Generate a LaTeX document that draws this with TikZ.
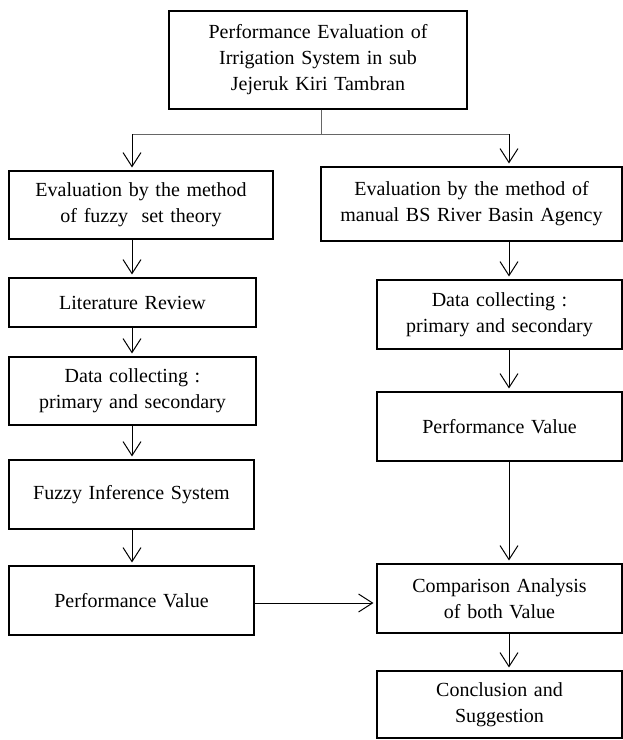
\documentclass[tikz,border=0pt]{standalone}
\usepackage{fontspec}
\setmainfont{Liberation Serif}
\usetikzlibrary{arrows.meta}
\begin{document}
\begin{tikzpicture}[x=1pt,y=-1pt,
  box/.style={draw=black, line width=1.1pt, align=center, inner sep=0pt,
    font=\fontsize{20}{26}\selectfont},
  arr/.style={draw=black, line width=1pt, -{Straight Barb[length=14pt,width=18pt,line width=1pt]}, shorten >=3pt},
  link/.style={draw=black!60, line width=1pt}]
\useasboundingbox (0,0) rectangle (623,740);
\def\bx#1#2#3#4#5#6{\node[box, minimum width=#4-#3, minimum height=#6-#5, text width=#4-#3-6] (#1) at ({(#3+#4)/2},{(#5+#6)/2}) {#2};}
\bx{top}{Performance Evaluation of\\Irrigation System in sub\\Jejeruk Kiri Tambran}{169}{467}{11}{109}
\bx{L1}{Evaluation by the method\\of fuzzy\ \ set theory}{9}{273}{171}{239}
\bx{L2}{Literature Review}{9}{256}{278}{327}
\bx{L3}{Data collecting :\\primary and secondary}{9}{256}{357}{425}
\bx{L4}{Fuzzy Inference System}{9}{254}{460}{529}
\bx{L5}{Performance Value}{9}{254}{566}{635}
\bx{R1}{Evaluation by the method of\\manual BS River Basin Agency}{321}{622}{167}{241}
\bx{R2}{Data collecting :\\primary and secondary}{377}{622}{280}{349}
\bx{R3}{Performance Value}{377}{622}{392}{461}
\bx{R4}{Comparison Analysis\\of both Value}{377}{622}{564}{633}
\bx{R5}{Conclusion and\\Suggestion}{377}{622}{671}{738}
\coordinate (axL) at (132,0);
\coordinate (axR) at (509,0);
\coordinate (tj) at (321,109);
\coordinate (j) at (321,134);
\draw[link] (top.south -| tj) -- (j);
\draw[link] (j -| axL) -- (j -| axR);
\draw[arr] (j -| axL) -- (L1.north -| axL);
\draw[arr] (j -| axR) -- (R1.north -| axR);
\draw[arr] (L1.south -| axL) -- (L2.north -| axL);
\draw[arr] (L2.south -| axL) -- (L3.north -| axL);
\draw[arr] (L3.south -| axL) -- (L4.north -| axL);
\draw[arr] (L4.south -| axL) -- (L5.north -| axL);
\draw[arr] (R1.south -| axR) -- (R2.north -| axR);
\draw[arr] (R2.south -| axR) -- (R3.north -| axR);
\draw[arr] (R3.south -| axR) -- (R4.north -| axR);
\draw[arr] (R4.south -| axR) -- (R5.north -| axR);
\coordinate (hy) at (0,603);
\draw[arr] (L5.east |- hy) -- (R4.west |- hy);
\end{tikzpicture}
\end{document}
